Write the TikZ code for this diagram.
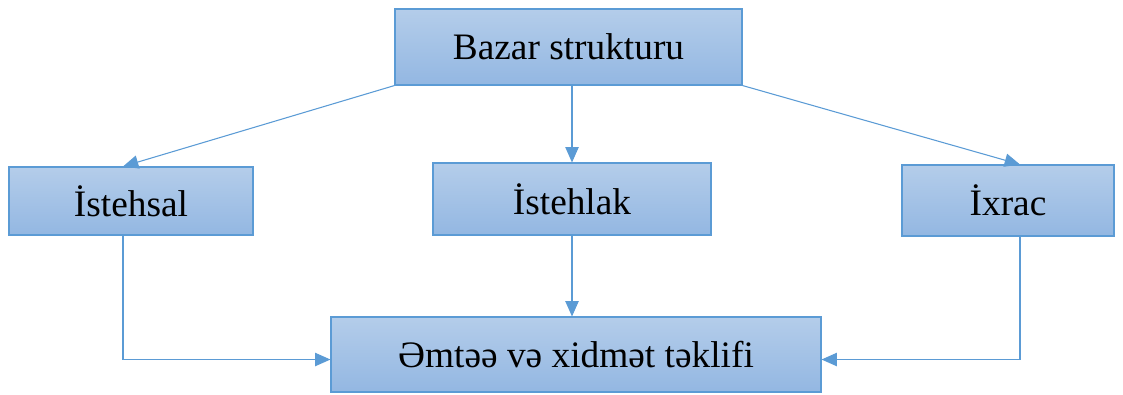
\documentclass[tikz,border=0pt]{standalone}
\usepackage{fontspec}
\setmainfont{Liberation Serif}
\usetikzlibrary{arrows.meta,calc}
\definecolor{bordc}{RGB}{91,155,213}
\definecolor{topc}{RGB}{180,205,234}
\definecolor{botc}{RGB}{147,183,226}
\tikzset{
  box/.style={draw=bordc, line width=0.8pt, top color=topc, bottom color=botc,
    font=\fontsize{28}{33}\selectfont, inner sep=0pt, anchor=center},
  arr/.style={draw=bordc, line width=0.8pt, -{Triangle[length=11.5pt,width=10pt]}}
}
\begin{document}
\begin{tikzpicture}[x=0.75pt,y=-0.75pt]
\useasboundingbox (0,0) rectangle (1123,394);
\node[box, minimum width=347*0.75pt, minimum height=76*0.75pt] (top) at (568.5,47) {Bazar strukturu};
\node[box, minimum width=244*0.75pt, minimum height=68*0.75pt] (ist) at (131,201) {İstehsal};
\node[box, minimum width=278*0.75pt, minimum height=72*0.75pt] (isl) at (572,199) {İstehlak};
\node[box, minimum width=212*0.75pt, minimum height=71*0.75pt] (ixr) at (1008,200.5) {İxrac};
\node[box, minimum width=490*0.75pt, minimum height=75*0.75pt] (bot) at (576,354.5) {Əmtəə və xidmət təklifi};
\draw[arr] (top.south west) -- ([xshift=-6pt]ist.north);
\draw[arr] (top.south -| isl.north) -- (isl.north);
\draw[arr] (top.south east) -- ([xshift=9pt]ixr.north);
\draw[arr] ([xshift=-6pt]ist.south) |- ([yshift=-3.75pt]bot.west);
\draw[arr] (isl.south) -- (isl.south |- bot.north);
\draw[arr] ([xshift=9pt]ixr.south) |- ([yshift=-3.75pt]bot.east);
\end{tikzpicture}
\end{document}
